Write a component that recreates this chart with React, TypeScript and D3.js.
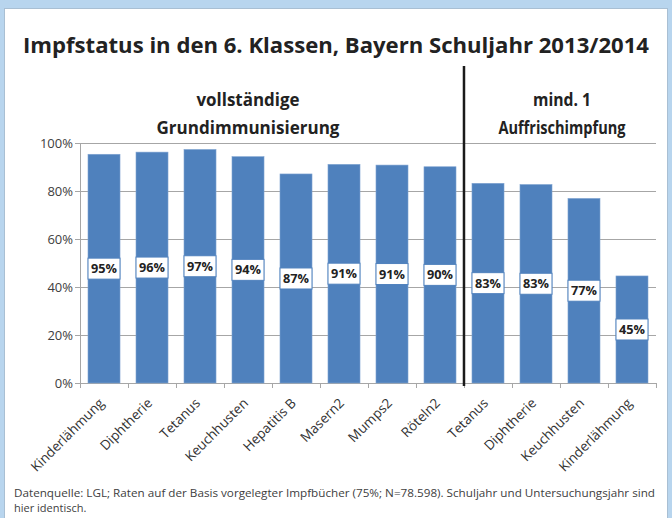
import React from "react";
import * as d3 from "d3";

const categories = ["Kinderlähmung", "Diphtherie", "Tetanus", "Keuchhusten", "Hepatitis B", "Masern2", "Mumps2", "Röteln2", "Tetanus", "Diphtherie", "Keuchhusten", "Kinderlähmung"];
const values = [95.3, 96.2, 97.3, 94.3, 87.1, 91.1, 90.8, 90.1, 83.2, 82.7, 76.9, 44.6];
const yTicks = [0, 20, 40, 60, 80, 100];
const groupLabels = [["vollständige", "Grundimmunisierung"], ["mind. 1", "Auffrischimpfung"]];
const groupSplit = 8;

const W = 672, H = 518;
const left = 80, right = 656, top = 143, bottom = 383;
const FONT = "'Open Sans', 'DejaVu Sans', sans-serif";

export default function App() {
  const keys = categories.map((c, i) => i + ":" + c);
  const x = d3.scaleBand<string>().domain(keys).range([left, right]).paddingInner(0.333).paddingOuter(0.1667);
  const y = d3.scaleLinear().domain([0, 100]).range([bottom, top]);
  const step = x.step();
  const divX = left + step * groupSplit;
  const g1c = (left + divX) / 2;
  const g2c = (divX + right) / 2;

  return (
    <svg width={W} height={H} style={{ position: "absolute", left: 0, top: 0, display: "block" }} fontFamily={FONT}>
      <rect x={0} y={0} width={W} height={H} fill="#b8d5ee" />
      <rect x={4.5} y={8.5} width={663} height={H} fill="#ffffff" stroke="#a9bfd3" strokeWidth={1} />
      <text x={336} y={53} textAnchor="middle" fontSize={21.5} fontWeight="bold" fill="#222" textLength={626} lengthAdjust="spacingAndGlyphs">
        Impfstatus in den 6. Klassen, Bayern Schuljahr 2013/2014
      </text>
      {/* group headers */}
      <text x={g1c - 24} y={106} textAnchor="middle" fontSize={17} fontWeight="bold" fill="#222" textLength={103} lengthAdjust="spacingAndGlyphs">{groupLabels[0][0]}</text>
      <text x={g1c - 24} y={134} textAnchor="middle" fontSize={17} fontWeight="bold" fill="#222" textLength={183} lengthAdjust="spacingAndGlyphs">{groupLabels[0][1]}</text>
      <text x={g2c + 2} y={106} textAnchor="middle" fontSize={17} fontWeight="bold" fill="#222" textLength={58} lengthAdjust="spacingAndGlyphs">{groupLabels[1][0]}</text>
      <text x={g2c + 2} y={134} textAnchor="middle" fontSize={17} fontWeight="bold" fill="#222" textLength={127} lengthAdjust="spacingAndGlyphs">{groupLabels[1][1]}</text>
      {/* gridlines */}
      {yTicks.map((t) => (
        <g key={t}>
          <line x1={left - 5} x2={right} y1={Math.round(y(t)) + 0.5} y2={Math.round(y(t)) + 0.5} stroke="#a6a6a6" strokeWidth={1} />
          <text x={73} y={y(t) + 5} textAnchor="end" fontSize={13} fill="#404040">{t}%</text>
        </g>
      ))}
      <line x1={left + 0.5} x2={left + 0.5} y1={top} y2={bottom} stroke="#a6a6a6" />
      {d3.range(categories.length + 1).map((i) => (
        <line key={"t" + i} x1={left + step * i + 0.5} x2={left + step * i + 0.5} y1={bottom} y2={bottom + 5} stroke="#a6a6a6" />
      ))}
      {/* bars */}
      {keys.map((k, i) => (
        <rect key={k} x={x(k)} y={y(values[i])} width={x.bandwidth()} height={y(0) - y(values[i])} fill="#4f81bd" stroke="#7fa3d1" strokeWidth={0.6} />
      ))}
      {/* value labels */}
      {keys.map((k, i) => {
        const cx = (x(k) as number) + x.bandwidth() / 2;
        const cy = (y(values[i]) + y(0)) / 2;
        return (
          <g key={"l" + k}>
            <rect x={cx - 16} y={cy - 10.5} width={32} height={21} fill="#fff" stroke="#4f81bd" strokeWidth={1} />
            <text x={cx} y={cy + 4.5} textAnchor="middle" fontSize={12.5} fontWeight="bold" fill="#222" textLength={26} lengthAdjust="spacingAndGlyphs">{Math.round(values[i])}%</text>
          </g>
        );
      })}
      {/* divider */}
      <line x1={divX} x2={divX} y1={66} y2={386} stroke="#1a1a1a" strokeWidth={2.5} />
      {/* x labels */}
      {keys.map((k, i) => {
        const cx = (x(k) as number) + x.bandwidth() / 2;
        return (
          <text key={"x" + k} transform={`translate(${cx + 1},${404}) rotate(-45)`} textAnchor="end" fontSize={13.5} fill="#333">{categories[i]}</text>
        );
      })}
      <text x={14} y={497} fontSize={11} fill="#404040" textLength={641} lengthAdjust="spacingAndGlyphs">
        Datenquelle: LGL; Raten auf der Basis vorgelegter Impfbücher (75%; N=78.598). Schuljahr und Untersuchungsjahr sind
      </text>
      <text x={14} y={512} fontSize={11} fill="#404040">hier identisch.</text>
    </svg>
  );
}
